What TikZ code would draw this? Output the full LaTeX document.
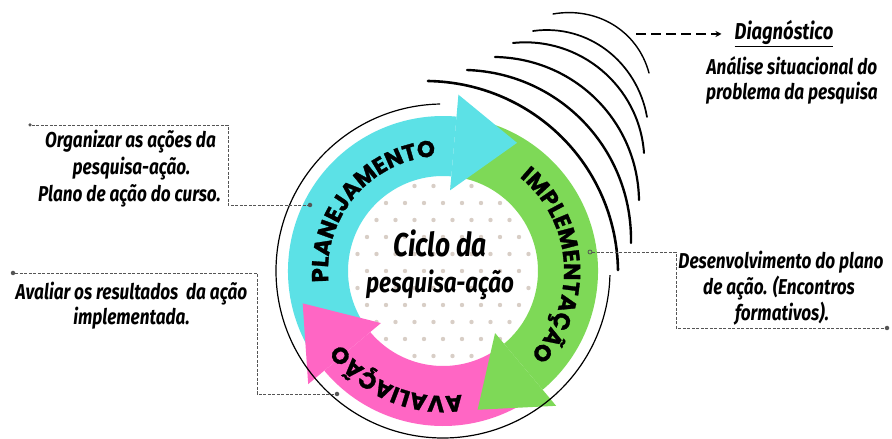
\documentclass[tikz,border=0pt]{standalone}
\usepackage{fontspec}
\usetikzlibrary{calc,decorations.text,arrows.meta}
\newfontfamily\condfont[FakeStretch=0.8]{Fira Sans}
\newfontfamily\ringfont[BoldFeatures={FakeBold=1.2}]{Poppins}
\definecolor{cyanband}{HTML}{5CE1E6}
\definecolor{greenband}{HTML}{7ED957}
\definecolor{pinkband}{HTML}{FF66C4}
\definecolor{dotcol}{HTML}{D8CEC6}
\definecolor{leadcol}{HTML}{555555}
\begin{document}
\begin{tikzpicture}[x=1pt,y=1pt,
  lbl/.style={font=\condfont\bfseries\itshape\fontsize{21.5}{26}\selectfont, inner sep=0pt, anchor=base, text=black},
  ctr/.style={inner sep=0pt, anchor=base, text=black},
  leader/.style={draw=leadcol, line width=0.8pt, dash pattern=on 3pt off 1.5pt},
  enddot/.style={circle, fill=leadcol, inner sep=0pt, minimum size=4.5pt},
  wave/.style={line width=#1, line cap=round},
  dasharrow/.style={line width=1.6pt, dash pattern=on 10pt off 5pt, -{Stealth[length=6pt,width=6pt]}},
  ringtext/.style={decorate, decoration={text along path, text align=center, text={|\ringfont\bfseries\fontsize{23}{23}\selectfont|#1}}}
]
\useasboundingbox[fill=white] (0,0) rectangle (892,439);
\coordinate (C) at (443,168);

% dotted inner disk
\begin{scope}
  \clip (C) circle (93);
  \foreach \j in {-6,...,6} {
    \foreach \i in {-6,...,6} {
      \pgfmathsetmacro{\xx}{\i*19 + abs(mod(\j,2))*9.5}
      \fill[dotcol] ($(C)+(\xx,\j*17)$) circle (2.2);
    }
  }
\end{scope}

% band bodies
\fill[cyanband] ($(C)+(210:155)$) arc[start angle=210, end angle=85, radius=155]
   -- ($(C)+(85:95)$) arc[start angle=85, end angle=210, radius=95] -- cycle;
\fill[greenband] ($(C)+(78:155)$) arc[start angle=78, end angle=-50, radius=155]
   -- ($(C)+(-50:95)$) arc[start angle=-50, end angle=78, radius=95] -- cycle;
\fill[pinkband] ($(C)+(-58:155)$) arc[start angle=-58, end angle=-140, radius=155]
   -- ($(C)+(-140:95)$) arc[start angle=-140, end angle=-58, radius=95] -- cycle;

% arrow heads
\fill[cyanband] ($(C)+(85:177)$) -- ($(C)+(60:148)$) -- ($(C)+(85:81)$) -- cycle;
\fill[greenband] ($(C)+(-50:176)$) -- ($(C)+(-76:143)$) -- ($(C)+(-50:81)$) -- cycle;
\fill[pinkband] ($(C)+(220:176)$) -- ($(C)+(193:144)$) -- ($(C)+(220:81)$) -- cycle;

% ring labels
\path[ringtext=PLANEJAMENTO] ($(C)+(214.5:115)$) arc[start angle=214.5, end angle=64.5, radius=115];
\path[ringtext=IMPLEMENTAÇÃO] ($(C)+(78.5:121)$) arc[start angle=78.5, end angle=-71.5, radius=121];
\path[ringtext=AVALIAÇÃO] ($(C)+(-38:125)$) arc[start angle=-38, end angle=-188, radius=125];

% outer thin circle
\draw[line width=1.2pt] ($(C)+(91:167)$) arc[start angle=91, end angle=358.6, radius=167];

% waves
\coordinate (wA1) at (428,358); \coordinate (wA2) at (618,169);
\coordinate (wB1) at (467,369); \coordinate (wB2) at (631,196);
\coordinate (wC1) at (495,382); \coordinate (wC2) at (639,239);
\coordinate (wD1) at (513,396); \coordinate (wD2) at (644,286);
\coordinate (wE1) at (533,408); \coordinate (wE2) at (647,322);
\coordinate (wF1) at (553,425); \coordinate (wF2) at (649,366);
\draw[wave=2.6pt] (wA1) to[out=-1,in=91] (wA2);
\draw[wave=2.4pt] (wB1) to[out=-2,in=89] (wB2);
\draw[wave=2.2pt] (wC1) to[out=-1,in=91] (wC2);
\draw[wave=2.0pt] (wD1) to[out=6,in=94] (wD2);
\draw[wave=1.7pt] (wE1) to[out=8,in=100] (wE2);
\draw[wave=1.4pt] (wF1) to[out=10,in=105] (wF2);

% centre title
\node[ctr, font=\condfont\bfseries\itshape\fontsize{33}{33}\selectfont] (t1) at (440,182) {Ciclo da};
\node[ctr, font=\condfont\bfseries\itshape\fontsize{28}{28}\selectfont] (t2) at (440,146) {pesquisa-ação};

% diagnostico
\node[lbl, font=\condfont\bfseries\itshape\fontsize{23}{26}\selectfont] (diag) at (784,399) {\underline{Diagnóstico}};
\node[lbl] (dg1) at (792,364) {Análise situacional do};
\node[lbl] (dg2) at (792,339) {problema da pesquisa};
\coordinate (darr) at (636,405);
\draw[dasharrow] (darr) -- ($(darr -| diag.west)+(-13,0)$);

% box 1
\node[lbl] (p1) at (130.5,291) {Organizar as ações da};
\node[lbl] (p2) at (131.5,264) {pesquisa-ação.};
\node[lbl] (p3) at (129.5,237) {Plano de ação do curso.};
\node[enddot, minimum size=3.5pt] (d1a) at (30,314) {};
\node[enddot] (d1b) at (310,234) {};
\coordinate (k1a) at (228,314); \coordinate (k1b) at (228,234);
\draw[leader] (d1a) -- (k1a) -- (k1b) -- (d1b);

% box 2
\node[lbl] (a1) at (131.5,139) {Avaliar os resultados\ \ da ação};
\node[lbl] (a2) at (131.5,114) {implementada.};
\node[enddot] (d2a) at (13,166) {};
\node[enddot] (d2b) at (337,45) {};
\coordinate (k2a) at (257,166); \coordinate (k2b) at (257,45);
\draw[leader] (d2a) -- (k2a) -- (k2b) -- (d2b);

% box 3
\node[lbl] (i1) at (781,170) {Desenvolvimento do plano};
\node[lbl] (i2) at (779,144) {de ação. (Encontros};
\node[lbl] (i3) at (782,118) {formativos).};
\node[enddot, fill=none, draw=leadcol, line width=0.8pt, minimum size=4pt] (d3a) at (590,187) {};
\node[enddot] (d3b) at (887,111) {};
\coordinate (k3a) at (676,187); \coordinate (k3b) at (676,111);
\draw[leader] (d3a) -- (k3a) -- (k3b) -- (d3b);
\end{tikzpicture}
\end{document}
